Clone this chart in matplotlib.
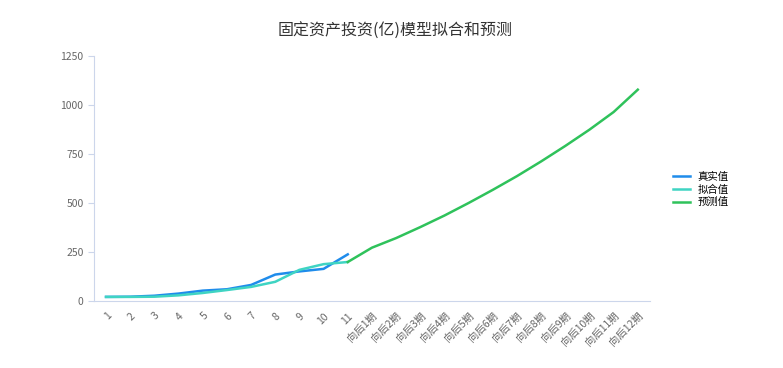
import matplotlib
matplotlib.use("Agg")
import matplotlib.pyplot as plt
import numpy as np

plt.rcParams['font.family'] = ['Noto Sans CJK SC', 'DejaVu Sans']

# x categories: 11 observed periods + 12 forecast periods
periods = [str(i) for i in range(1, 12)] + ['向后%d期' % i for i in range(1, 13)]

# values
actual = [21, 22, 27, 38, 53, 60, 82, 135, 151, 164, 238]
fitted = [21, 21, 22, 29, 41, 56, 72, 98, 159, 188, 199]
forecast = [199, 272, 321, 377, 436, 500, 567, 637, 712, 791, 874, 964, 1078]

fig = plt.figure(figsize=(7.83, 3.68), dpi=100)
ax = fig.add_axes([0.12, 0.182, 0.71, 0.666])

x = np.arange(len(periods))
ax.plot(x[:len(actual)], actual, color='#1f8ceb', lw=1.8, label='真实值')
ax.plot(x[:len(fitted)], fitted, color='#3fd4c3', lw=1.8, label='拟合值')
ax.plot(x[len(actual) - 1:], forecast, color='#2fc25b', lw=1.8, label='预测值')

ax.set_xlim(-0.5, len(periods) - 0.5)
ax.set_ylim(0, 1250)
ax.set_yticks([0, 250, 500, 750, 1000, 1250])
ax.set_xticks(x)
ax.set_xticklabels(periods, rotation=45, ha='right', rotation_mode='anchor')

for s in ['top', 'right']:
    ax.spines[s].set_visible(False)
for s in ['left', 'bottom']:
    ax.spines[s].set_color('#ccd6eb')
ax.tick_params(axis='y', colors='#ccd6eb', labelcolor='#666666', labelsize=7.5, length=4)
ax.tick_params(axis='x', length=0, labelcolor='#666666', labelsize=7.5, pad=7)

fig.text(0.505, 0.915, '固定资产投资(亿)模型拟合和预测', ha='center', va='center',
         fontsize=11.5, color='#333333')

fig.legend(loc='center left', bbox_to_anchor=(0.848, 0.485), frameon=False,
           fontsize=7.5, handlelength=1.6, handletextpad=0.7, labelspacing=0.25)

fig.savefig('out.png', dpi=100)
